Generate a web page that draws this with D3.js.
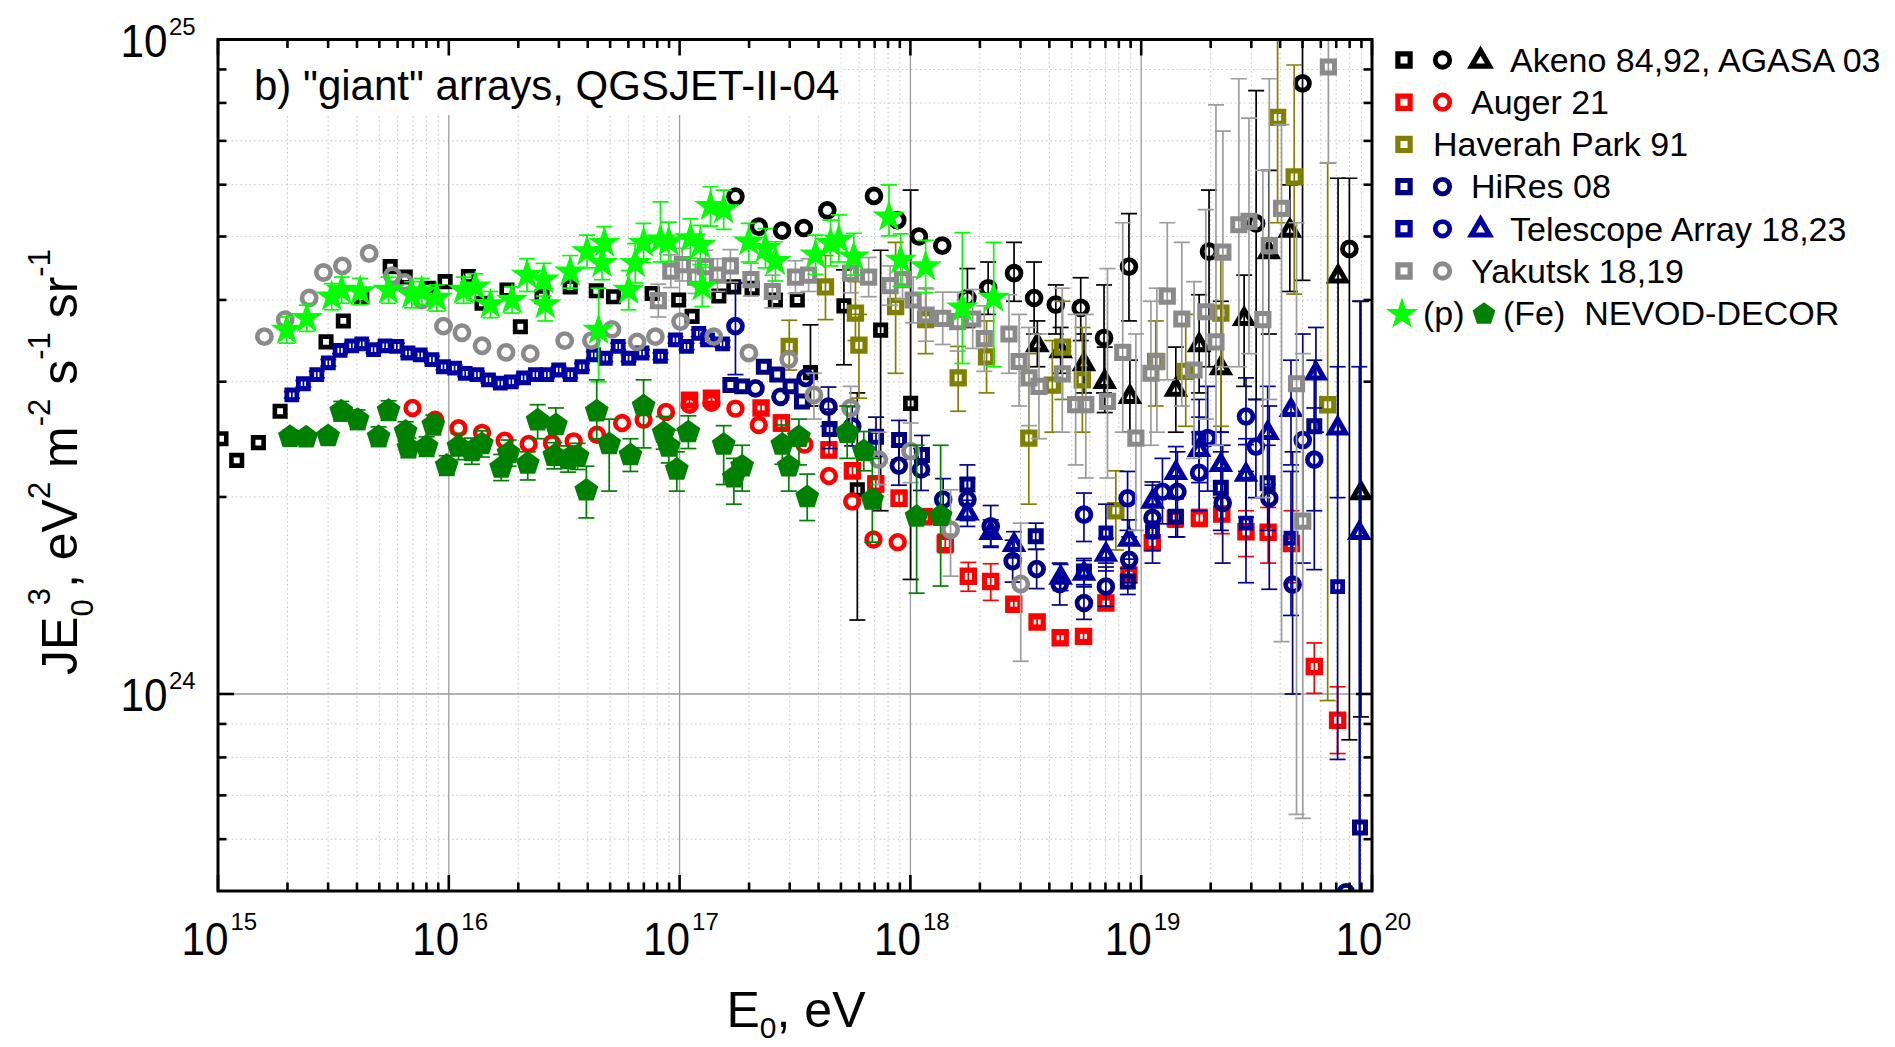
<!DOCTYPE html>
<html><head><meta charset="utf-8">
<script src="https://cdn.jsdelivr.net/npm/d3@7"></script>
<style>
body{margin:0;background:#fff}
text{font-family:"Liberation Sans",Arial,Helvetica,sans-serif;fill:#000}
</style>
</head><body>
<svg id="c" width="1895" height="1047"></svg>
<script>
// ---------------- DATA ----------------
// each point: [lg(E0/eV), lg(JE0^3 / eV^2 m^-2 s^-1 sr^-1), (errors)]
// 3 elements -> symmetric error in dex; 4 elements -> absolute lower, upper bound (lg)
const xTickExp = [15, 16, 17, 18, 19, 20];
const yTickExp = [24, 25];

const akeno84 = [[15.013,24.390],[15.081,24.357],[15.175,24.384],[15.269,24.432],[15.468,24.538],[15.543,24.570],[15.623,24.607],[15.746,24.653],[15.811,24.637],[15.911,24.620],[15.984,24.630],[16.085,24.638],[16.144,24.597],[16.252,24.617],[16.310,24.561],[16.404,24.607],[16.526,24.622],[16.639,24.616],[16.714,24.607],[16.881,24.612],[16.996,24.602],[17.054,24.577],[17.170,24.608],[17.235,24.622],[17.314,24.620],[17.415,24.602],[17.510,24.602],[17.567,24.491,24.44,24.564],[17.712,24.593,24.503,24.648],[17.770,24.312,24.113,24.46],[17.871,24.556,24.28,24.678],[18.001,24.444,24.175,24.77]];
const akeno92 = [[17.242,24.760],[17.343,24.714],[17.444,24.708],[17.538,24.712],[17.640,24.739],[17.842,24.761],[17.943,24.724],[18.037,24.699],[18.138,24.685],[18.247,24.605,24.56,24.65],[18.337,24.620,24.58,24.66],[18.449,24.643,24.60,24.69],[18.536,24.605,24.55,24.66],[18.630,24.595,24.55,24.625],[18.738,24.590,24.54,24.636],[18.839,24.544,24.46,24.625],[18.947,24.653,24.57,24.734],[19.294,24.676,24.50,24.770],[19.498,24.719,24.45,24.922],[19.699,24.933,24.632,25.3],[19.902,24.680,23.93,24.788]];
const agasa03 = [[18.550,24.533,24.50,24.57],[18.651,24.524,24.49,24.56],[18.752,24.504,24.46,24.55],[18.842,24.477,24.43,24.53],[18.951,24.454,24.40,24.51],[19.150,24.465,24.40,24.53],[19.251,24.533,24.46,24.61],[19.345,24.498,24.40,24.60],[19.446,24.573,24.47,24.64],[19.553,24.675,24.55,24.80],[19.644,24.708,24.615,24.778],[19.853,24.638,24.40,24.788],[19.952,24.307,23.965,24.60]];
const augerSq = [[17.043,24.449,0.005],[17.138,24.452,0.005],[17.353,24.437,0.005],[17.441,24.414,0.012],[17.647,24.373,0.012],[17.749,24.341,0.012],[17.850,24.321,0.012],[17.951,24.299,0.012],[18.059,24.271,0.012],[18.151,24.230,0.014],[18.251,24.180,24.157,24.201],[18.348,24.172,24.143,24.199],[18.448,24.137,0.005],[18.549,24.110,0.005],[18.649,24.086,0.005],[18.750,24.088,0.005],[18.847,24.139,0.005],[18.947,24.182,0.006],[19.048,24.231,0.006],[19.148,24.268,0.013],[19.252,24.269,0.013],[19.349,24.275,24.245,24.30],[19.454,24.248,24.21,24.28],[19.550,24.247,24.20,24.285],[19.651,24.230,24.17,24.28],[19.750,24.042,24.001,24.078],[19.851,23.960,23.909,24.011]];
const augerCi = [[15.843,24.437],[15.941,24.419],[16.042,24.406],[16.144,24.399],[16.242,24.387],[16.346,24.382],[16.447,24.383],[16.541,24.386],[16.642,24.396],[16.751,24.414],[16.844,24.419],[16.941,24.431],[17.043,24.442],[17.138,24.445],[17.242,24.436],[17.343,24.411],[17.541,24.381],[17.647,24.333],[17.748,24.294],[17.840,24.236],[17.945,24.232]];
const haverah91 = [[17.475,24.531,24.495,24.571],[17.632,24.622,24.572,24.67],[17.762,24.582,24.54,24.63],[17.777,24.533,24.452,24.58],[17.936,24.592,24.49,24.69],[18.066,24.572,24.52,24.62],[18.207,24.483,24.432,24.531],[18.330,24.515,24.46,24.57],[18.513,24.391,24.29,24.52],[18.615,24.472,24.40,24.54],[18.659,24.530,24.45,24.60],[18.745,24.480,24.40,24.56],[18.890,24.280,24.22,24.341],[19.063,24.508,24.44,24.57],[19.193,24.493,24.409,24.58],[19.345,24.582,24.409,24.67],[19.591,24.881,24.72,25.3],[19.663,24.790,24.611,24.961],[19.808,24.442,23.990,24.811]];
const hiresSq = [[17.220,24.472],[17.271,24.470],[17.365,24.500],[17.423,24.488],[17.481,24.470],[17.530,24.447],[17.650,24.405,0.03],[17.851,24.393,0.03],[17.951,24.388,0.03],[18.050,24.365,0.03],[18.247,24.320,0.03],[18.543,24.241,0.02],[18.752,24.187,0.02],[18.942,24.172,0.02],[19.150,24.271,24.24,24.30],[19.345,24.315,24.25,24.37],[19.548,24.322,24.25,24.38],[19.750,24.409,24.28,24.51],[19.948,23.796,23.5,24.6]];
const hiresCi = [[17.329,24.467],[17.437,24.454],[17.546,24.483],[17.645,24.439,0.03],[17.748,24.409,0.03],[17.950,24.349,0.03],[18.046,24.343,0.032],[18.142,24.297,0.032],[18.247,24.297,0.032],[18.348,24.256,0.032],[18.443,24.203,0.032],[18.547,24.191,0.03],[18.647,24.168,0.032],[18.752,24.139,0.025],[18.847,24.164,0.03],[18.948,24.205,0.035],[19.049,24.269,0.05],[19.157,24.309,24.24,24.37],[19.353,24.292,24.20,24.38],[19.555,24.299,24.16,24.44],[19.656,24.167,24.0,24.37],[19.887,23.697]];
const taSq = [[15.320,24.457,0.005],[15.370,24.474,0.005],[15.428,24.488,0.005],[15.478,24.506,0.005],[15.529,24.525,0.005],[15.580,24.532,0.005],[15.623,24.535,0.005],[15.674,24.526,0.005],[15.724,24.532,0.005],[15.775,24.531,0.005],[15.823,24.521,0.005],[15.876,24.518,0.005],[15.927,24.511,0.005],[15.977,24.500,0.005],[16.025,24.498,0.005],[16.071,24.490,0.005],[16.122,24.488,0.005],[16.172,24.480,0.005],[16.223,24.475,0.005],[16.271,24.477,0.005],[16.324,24.483,0.005],[16.375,24.488,0.005],[16.425,24.488,0.005],[16.476,24.495,0.005],[16.526,24.488,0.005],[16.577,24.500,0.005],[16.628,24.518,0.005],[16.678,24.513,0.005],[16.734,24.531,0.005],[16.779,24.513,0.005],[16.837,24.521,0.005],[16.917,24.516,0.005],[16.982,24.541,0.005],[17.030,24.531,0.005],[17.083,24.551,0.005],[17.121,24.541,0.005],[17.186,24.535,0.005],[18.847,24.246,24.20,24.29],[19.049,24.248,24.20,24.29],[19.251,24.391,24.33,24.45],[19.454,24.261,24.17,24.34],[19.649,24.238,24.12,24.34],[19.851,24.164,23.90,24.40]];
const taCi = [[17.242,24.562,24.488,24.628],[18.752,24.274,24.233,24.307],[18.941,24.299,24.25,24.340],[19.092,24.309,24.26,24.36],[19.251,24.338,24.28,24.40],[19.288,24.391,24.31,24.47],[19.454,24.424,24.381,24.483],[19.497,24.378,24.30,24.45],[19.700,24.388,24.20,24.55],[19.750,24.358,24.190,24.437]];
const taTri = [[18.247,24.276,0.02],[18.348,24.246,0.02],[18.449,24.228,0.02],[18.651,24.178,0.02],[18.752,24.184,0.02],[18.847,24.213,0.025],[18.948,24.236,0.03],[19.049,24.294,0.03],[19.150,24.338,0.04],[19.251,24.373,0.05],[19.345,24.350,0.05],[19.454,24.335,24.27,24.39],[19.548,24.399,24.32,24.47],[19.649,24.434,24.35,24.51],[19.757,24.490,24.40,24.56],[19.851,24.406,24.30,24.50],[19.945,24.246,23.3,24.5]];
const yakutskSq = [[16.908,24.601,0.025],[16.962,24.646,0.025],[17.012,24.656,0.025],[17.069,24.637,0.025],[17.112,24.653,0.025],[17.164,24.640,0.025],[17.220,24.654,0.025],[17.309,24.633,0.025],[17.402,24.615,0.025],[17.502,24.637,0.025],[17.559,24.640,0.025],[17.741,24.643,0.03],[17.819,24.637,0.03],[17.912,24.624,0.03],[17.966,24.633,0.03],[18.012,24.602,0.035],[18.068,24.579,0.04],[18.140,24.574,0.04],[18.205,24.569,0.045],[18.270,24.573,0.045],[18.320,24.543,0.05],[18.427,24.550,24.49,24.61],[18.471,24.508,24.44,24.58],[18.514,24.483,24.41,24.56],[18.557,24.470,24.39,24.55],[18.658,24.489,24.40,24.62],[18.716,24.442,24.35,24.58],[18.760,24.442,24.33,24.58],[18.854,24.447,24.33,24.65],[18.920,24.522,24.40,24.72],[18.977,24.391,24.25,24.55],[19.042,24.490,24.38,24.60],[19.068,24.508,24.40,24.62],[19.113,24.608,24.48,24.72],[19.176,24.573,24.44,24.69],[19.229,24.495,24.36,24.63],[19.280,24.584,24.42,24.74],[19.324,24.538,24.38,24.90],[19.354,24.675,24.50,24.86],[19.423,24.717,24.50,24.94],[19.467,24.722,24.52,24.88],[19.527,24.572,24.30,24.80],[19.555,24.685,24.45,24.94],[19.608,24.742,24.08,24.87],[19.673,24.474,23.816,24.72],[19.700,24.264,23.81,24.52],[19.811,24.958,24.811,25.3]];
const yakutskCi = [[15.201,24.546],[15.291,24.572],[15.395,24.605],[15.457,24.644],[15.539,24.654],[15.655,24.673],[15.756,24.639],[15.808,24.629],[15.883,24.602],[15.977,24.562],[16.057,24.552],[16.144,24.532],[16.248,24.522],[16.353,24.520],[16.502,24.540],[16.618,24.540],[16.707,24.557],[16.816,24.538],[16.895,24.546],[17.004,24.569],[17.148,24.546],[17.300,24.521],[17.473,24.511],[17.582,24.457,24.42,24.49],[17.741,24.437,24.40,24.47],[17.863,24.358,24.32,24.40],[18.001,24.371,24.323,24.414],[18.174,24.251,24.18,24.312],[18.478,24.168,24.050,24.261]];
const nevodP = [[15.298,24.556,0.02],[15.385,24.574,0.02],[15.493,24.607,0.02],[15.536,24.617,0.02],[15.616,24.615,0.02],[15.739,24.617,0.02],[15.840,24.610,0.02],[15.883,24.615,0.02],[15.948,24.605,0.02],[16.064,24.617,0.02],[16.115,24.622,0.02],[16.180,24.595,0.02],[16.274,24.602,0.02],[16.339,24.640,0.025],[16.411,24.633,0.025],[16.418,24.595,0.025],[16.526,24.645,0.025],[16.599,24.676,0.025],[16.649,24.556,24.477,24.62],[16.664,24.658,0.025],[16.674,24.689,0.025],[16.779,24.617,0.03],[16.808,24.658,0.03],[16.844,24.689,0.03],[16.917,24.694,24.66,24.752],[16.953,24.691,0.03],[17.047,24.696,0.03],[17.090,24.686,0.03],[17.098,24.622,0.03],[17.134,24.745,0.03],[17.191,24.740,0.03],[17.300,24.691,24.66,24.719],[17.372,24.681,0.03],[17.415,24.661,0.03],[17.589,24.671,0.03],[17.654,24.689,0.035],[17.690,24.694,24.66,24.732],[17.755,24.668,24.64,24.704],[17.907,24.729,24.70,24.778],[17.958,24.663,0.04],[18.066,24.653,0.04],[18.225,24.590,24.505,24.705],[18.361,24.605,24.50,24.690]];
const nevodFe = [[15.312,24.393,0.01],[15.382,24.392,0.01],[15.477,24.394,0.01],[15.534,24.432,0.015],[15.605,24.419,0.015],[15.696,24.393,0.015],[15.739,24.433,0.015],[15.813,24.401,0.015],[15.825,24.376,0.015],[15.904,24.378,0.015],[15.933,24.411,0.015],[15.991,24.349,0.015],[16.042,24.378,0.02],[16.100,24.371,0.02],[16.143,24.382,0.02],[16.227,24.346,0.02],[16.259,24.368,0.02],[16.342,24.352,24.327,24.37],[16.385,24.418,24.39,24.442],[16.464,24.411,24.36,24.437],[16.457,24.364,0.02],[16.517,24.359,0.02],[16.558,24.363,0.02],[16.596,24.311,24.269,24.348],[16.641,24.432,24.39,24.48],[16.695,24.382,24.31,24.42],[16.787,24.365,0.025],[16.844,24.440,24.376,24.48],[16.931,24.399,0.025],[16.953,24.378,0.025],[16.988,24.343,24.31,24.37],[17.038,24.400,0.025],[17.191,24.381,24.32,24.41],[17.235,24.331,24.29,24.36],[17.271,24.348,24.31,24.38],[17.445,24.381,0.03],[17.473,24.348,24.31,24.38],[17.517,24.393,24.35,24.42],[17.553,24.301,24.265,24.336],[17.726,24.399,24.36,24.44],[17.798,24.371,0.03],[17.835,24.297,24.232,24.36],[18.027,24.271,24.154,24.38],[18.131,24.272,24.165,24.38]];

const legendLabels = ["Akeno 84,92, AGASA 03","Auger 21","Haverah Park 91","HiRes 08","Telescope Array 18,23","Yakutsk 18,19"];
const titleText = "b) \"giant\" arrays, QGSJET-II-04";

// ---------------- CHART ----------------
const svg = d3.select("#c");
const P = {l:218, r:1372, t:39.5, b:891};
const x = d3.scaleLog().domain([1e15, 1e20]).range([P.l, P.r]);
const y = d3.scaleLog().domain([5e23, 1e25]).range([P.b, P.t]);
const X = lg => x(Math.pow(10, lg));
const Y = lg => y(Math.pow(10, lg));

const COL = {akeno:"#000000", auger:"#ff0000", haverah:"#808000", hires:"#000080", ta:"#0000a0", yak:"#8a8a8a", p:"#00ff00", fe:"#008000"};

const pentagon = {draw(ctx, size){ const r = Math.sqrt(size/2.3776); for(let i=0;i<5;i++){ const a=-Math.PI/2+i*2*Math.PI/5; const px=r*Math.cos(a), py=r*Math.sin(a); if(i) ctx.lineTo(px,py); else ctx.moveTo(px,py);} ctx.closePath(); }};
const SHAPES = {square:d3.symbolSquare, circle:d3.symbolCircle, triangle:d3.symbolTriangle, star:d3.symbolStar, pentagon:pentagon};

svg.append("rect").attr("width",1895).attr("height",1047).attr("fill","#fff");

// minor tick values
const xMinor = [], yMinor = [];
for (let d=15; d<20; d++) for (let k=2; k<10; k++) xMinor.push(k*Math.pow(10,d));
for (let k=6; k<10; k++) yMinor.push(k*1e23);
for (let k=2; k<10; k++) yMinor.push(k*1e24);
const xMajor = xTickExp.map(e=>Math.pow(10,e));
const yMajor = yTickExp.map(e=>Math.pow(10,e));

// grid
const grid = svg.append("g");
grid.selectAll(".gx").data(xMinor).enter().append("line")
  .attr("x1",d=>x(d)).attr("x2",d=>x(d)).attr("y1",P.t).attr("y2",P.b)
  .attr("stroke","#c4c4c4").attr("stroke-width",1).attr("stroke-dasharray","1.5,3");
grid.selectAll(".gy").data(yMinor).enter().append("line")
  .attr("y1",d=>y(d)).attr("y2",d=>y(d)).attr("x1",P.l).attr("x2",P.r)
  .attr("stroke","#c4c4c4").attr("stroke-width",1).attr("stroke-dasharray","1.5,3");
grid.selectAll(".gX").data(xMajor.slice(1,-1)).enter().append("line")
  .attr("x1",d=>x(d)).attr("x2",d=>x(d)).attr("y1",P.t).attr("y2",P.b)
  .attr("stroke","#9a9a9a").attr("stroke-width",1.3);
grid.selectAll(".gY").data([1e24]).enter().append("line")
  .attr("y1",d=>y(d)).attr("y2",d=>y(d)).attr("x1",P.l).attr("x2",P.r)
  .attr("stroke","#9a9a9a").attr("stroke-width",1.3);

// title box
svg.append("rect").attr("x",P.l+1.5).attr("y",P.t+1.5).attr("width",621).attr("height",74).attr("fill","#fff");
svg.append("text").attr("x",254).attr("y",100).attr("font-size",42).text(titleText);

// clip
svg.append("clipPath").attr("id","clipP").append("rect")
  .attr("x",P.l).attr("y",P.t).attr("width",P.r-P.l).attr("height",P.b-P.t);
const plot = svg.append("g").attr("clip-path","url(#clipP)");

function bounds(d){
  if (d.length===3) return [d[1]-d[2], d[1]+d[2]];
  if (d.length===4) return [d[2], d[3]];
  return null;
}

const series = [
  {data:akeno84, shape:"square", size:110, color:COL.akeno, bar:"#000", sw:4.6},
  {data:akeno92, shape:"circle", size:150, color:COL.akeno, bar:"#000", sw:4.8},
  {data:agasa03, shape:"triangle", size:112, color:COL.akeno, bar:"#000", sw:5},
  {data:augerSq, shape:"square", size:150, color:COL.auger, bar:COL.auger, sw:5.2},
  {data:augerCi, shape:"circle", size:150, color:COL.auger, bar:COL.auger, sw:4.6},
  {data:haverah91, shape:"square", size:148, color:COL.haverah, bar:COL.haverah, sw:5.2},
  {data:hiresSq, shape:"square", size:120, color:COL.hires, bar:COL.hires, sw:5},
  {data:hiresCi, shape:"circle", size:150, color:COL.hires, bar:COL.hires, sw:4.8},
  {data:taSq, shape:"square", size:100, color:COL.ta, bar:COL.ta, sw:4.8},
  {data:taCi, shape:"circle", size:150, color:COL.ta, bar:COL.ta, sw:4.8},
  {data:taTri, shape:"triangle", size:112, color:COL.ta, bar:COL.ta, sw:5},
  {data:yakutskSq, shape:"square", size:148, color:COL.yak, bar:"#9c9c9c", sw:5},
  {data:yakutskCi, shape:"circle", size:160, color:COL.yak, bar:"#9c9c9c", sw:4.6},
  {data:nevodP, shape:"star", size:330, color:COL.p, bar:COL.p, fill:true},
  {data:nevodFe, shape:"pentagon", size:375, color:COL.fe, bar:COL.fe, fill:true}
];

series.forEach(s => {
  const g = plot.append("g");
  const withErr = s.data.filter(d => bounds(d));
  const eb = g.selectAll(".eb").data(withErr).enter().append("g")
    .attr("stroke", s.bar).attr("stroke-width", 1.7).attr("fill","none");
  eb.append("line").attr("x1",d=>X(d[0])).attr("x2",d=>X(d[0]))
    .attr("y1",d=>Y(bounds(d)[0])).attr("y2",d=>Y(bounds(d)[1]));
  eb.append("line").attr("x1",d=>X(d[0])-8).attr("x2",d=>X(d[0])+8)
    .attr("y1",d=>Y(bounds(d)[0])).attr("y2",d=>Y(bounds(d)[0]));
  eb.append("line").attr("x1",d=>X(d[0])-8).attr("x2",d=>X(d[0])+8)
    .attr("y1",d=>Y(bounds(d)[1])).attr("y2",d=>Y(bounds(d)[1]));
  const sym = d3.symbol().type(SHAPES[s.shape]).size(s.size);
  g.selectAll(".m").data(s.data).enter().append("path")
    .attr("d", sym)
    .attr("transform", d => `translate(${X(d[0])},${Y(d[1])})`)
    .attr("fill", s.fill ? s.color : "none")
    .attr("stroke", s.fill ? "none" : s.color)
    .attr("stroke-width", s.sw || 0)
    .attr("stroke-linejoin","miter");
});

// frame and ticks
const axes = svg.append("g").attr("stroke","#000");
axes.append("rect").attr("x",P.l).attr("y",P.t).attr("width",P.r-P.l).attr("height",P.b-P.t)
  .attr("fill","none").attr("stroke-width",3);
const MAJ = 16, MIN = 8.5;
function xt(vals, len){
  axes.selectAll(null).data(vals).enter().append("line")
    .attr("x1",d=>x(d)).attr("x2",d=>x(d)).attr("y1",P.b).attr("y2",P.b-len).attr("stroke-width",2.6);
  axes.selectAll(null).data(vals).enter().append("line")
    .attr("x1",d=>x(d)).attr("x2",d=>x(d)).attr("y1",P.t).attr("y2",P.t+len).attr("stroke-width",2.6);
}
function yt(vals, len){
  axes.selectAll(null).data(vals).enter().append("line")
    .attr("y1",d=>y(d)).attr("y2",d=>y(d)).attr("x1",P.l).attr("x2",P.l+len).attr("stroke-width",2.6);
  axes.selectAll(null).data(vals).enter().append("line")
    .attr("y1",d=>y(d)).attr("y2",d=>y(d)).attr("x1",P.r).attr("x2",P.r-len).attr("stroke-width",2.6);
}
xt(xMinor, MIN); xt(xMajor, MAJ); yt(yMinor, MIN); yt(yMajor, MAJ);

// tick labels
const xl = svg.append("g");
xTickExp.forEach(e => {
  const px = x(Math.pow(10,e));
  xl.append("text").attr("x",px+10.5).attr("y",955).attr("text-anchor","end")
    .attr("font-size",46).attr("textLength",47).attr("lengthAdjust","spacingAndGlyphs").text("10");
  xl.append("text").attr("x",px+12.5).attr("y",930).attr("font-size",24).text(String(e));
});
yTickExp.forEach(e => {
  const py = y(Math.pow(10,e));
  xl.append("text").attr("x",167.5).attr("y",py+17).attr("text-anchor","end")
    .attr("font-size",46).attr("textLength",47).attr("lengthAdjust","spacingAndGlyphs").text("10");
  xl.append("text").attr("x",169).attr("y",py-5).attr("font-size",24).text(String(e));
});

// axis titles
const xtt = svg.append("text").attr("x",796).attr("y",1027).attr("text-anchor","middle").attr("font-size",50);
xtt.append("tspan").text("E");
xtt.append("tspan").attr("font-size",30).attr("dy",11).text("0");
xtt.append("tspan").attr("dy",-11).text(", eV");

const ytt = svg.append("text").attr("transform","translate(77,462) rotate(-90)").attr("text-anchor","middle").attr("font-size",50);
ytt.append("tspan").text("JE");
ytt.append("tspan").attr("font-size",31).attr("dy",16).text("0");
ytt.append("tspan").attr("font-size",31).attr("dy",-43).attr("dx",-6).text("3");
ytt.append("tspan").attr("dy",27).text(", eV");
ytt.append("tspan").attr("font-size",31).attr("dy",-27).text("2");
ytt.append("tspan").attr("dy",27).text(" m");
ytt.append("tspan").attr("font-size",31).attr("dy",-27).text("-2");
ytt.append("tspan").attr("dy",27).text(" s");
ytt.append("tspan").attr("font-size",31).attr("dy",-27).text("-1");
ytt.append("tspan").attr("dy",27).text(" sr");
ytt.append("tspan").attr("font-size",31).attr("dy",-27).text("-1");

// legend
const lg = svg.append("g");
const rowY = i => 60 + i*42.2;
const legendRows = [
  {shapes:["square","circle","triangle"], color:COL.akeno, tx:1510},
  {shapes:["square","circle"], color:COL.auger, tx:1471},
  {shapes:["square"], color:COL.haverah, tx:1433},
  {shapes:["square","circle"], color:COL.hires, tx:1471},
  {shapes:["square","circle","triangle"], color:COL.ta, tx:1510},
  {shapes:["square","circle"], color:COL.yak, tx:1471}
];
const legX = [1404, 1442.5, 1480.5];
legendRows.forEach((r,i) => {
  r.shapes.forEach((sh,j) => {
    lg.append("path").attr("d", d3.symbol().type(SHAPES[sh]).size(sh==="triangle"?140:(sh==="square"?150:165))())
      .attr("transform",`translate(${legX[j]},${rowY(i)+(sh==="triangle"?1:0)})`)
      .attr("fill","none").attr("stroke",r.color).attr("stroke-width",sh==="circle"?4.8:5.2);
  });
  lg.append("text").attr("x",r.tx).attr("y",rowY(i)+11.7).attr("font-size",34).text(legendLabels[i]);
});
lg.append("path").attr("d", d3.symbol().type(d3.symbolStar).size(320)())
  .attr("transform",`translate(1402,${rowY(6)+1})`).attr("fill",COL.p);
lg.append("text").attr("x",1423).attr("y",rowY(6)+11.7).attr("font-size",34).text("(p)");
lg.append("path").attr("d", d3.symbol().type(pentagon).size(340)())
  .attr("transform",`translate(1484,${rowY(6)+1})`).attr("fill",COL.fe);
lg.append("text").attr("x",1503).attr("y",rowY(6)+11.7).attr("font-size",34).attr("xml:space","preserve").text("(Fe)  NEVOD-DECOR");
</script>
</body></html>
